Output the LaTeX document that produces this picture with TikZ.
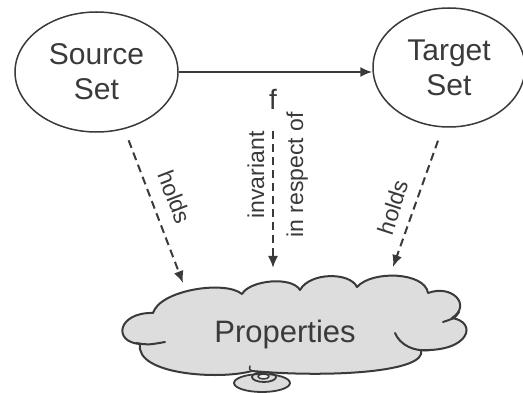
\documentclass[tikz,border=0pt]{standalone}
\usepackage{fontspec}
\setmainfont{Liberation Sans}
\usetikzlibrary{arrows.meta,shapes.geometric,calc}

\definecolor{ink}{HTML}{3A3A3A}
\definecolor{cloudgray}{HTML}{DDDDDD}

\tikzset{
  setnode/.style={ellipse, draw=ink, line width=1.5pt, fill=white, inner sep=0pt,
    align=center, text=ink, font=\fontsize{30}{35}\selectfont},
  lbl/.style={text=ink, inner sep=0pt, font=\fontsize{23}{27}\selectfont},
  mainarrow/.style={draw=ink, line width=2pt, -{Latex[length=12pt,width=10pt]}},
  dasharrow/.style={draw=ink, line width=2pt, dash pattern=on 8pt off 5pt,
    -{Latex[length=12pt,width=10pt]}},
  cloudline/.style={draw=ink, line width=2pt, line join=round, line cap=round},
}

\begin{document}
\begin{tikzpicture}[x=1pt, y=-1pt]
  \useasboundingbox (0,0) rectangle (523,393);
  \fill[white] (0,0) rectangle (523,393);

  % the two sets
  \node[setnode, minimum width=163pt, minimum height=120pt] (src) at (96.5,72) {Source\\Set};
  \node[setnode, minimum width=152pt, minimum height=119pt] (tgt) at (449,67.5) {Target\\Set};

  % the mapping f
  \draw[mainarrow] (src.east) -- (src.east -| tgt.west);
  \node[lbl, font=\fontsize{28}{32}\selectfont, anchor=base] (f) at (273,110) {f};

  % thought-bubble tail under the cloud
  \draw[cloudline, line width=1.8pt, fill=cloudgray] (262,383) ellipse [x radius=28, y radius=9];

  % the cloud of properties
  \path[cloudline, fill=cloudgray]
    (153,313)
    .. controls (160,290) and (225,280) .. (242,294)
    .. controls (250,280) and (292,276) .. (300,290)
    .. controls (310,272) and (350,272) .. (357,287)
    .. controls (372,270) and (425,272) .. (428,293)
    .. controls (452,284) and (472,305) .. (452,318)
    .. controls (478,322) and (470,352) .. (421,350)
    .. controls (428,372) and (330,378) .. (252,371)
    .. controls (220,380) and (135,375) .. (140,344)
    .. controls (112,342) and (118,312) .. (153,313)
    -- cycle;
  % folds inside the cloud
  \draw[cloudline] (136,343) .. controls (148,345) .. (165,342);
  \draw[cloudline] (459,312) .. controls (455,318) .. (443,322);
  \draw[cloudline] (430,350) .. controls (414,352) and (400,345) .. (395,333);
  \draw[cloudline, line width=1.5pt] (252,371) .. controls (249,369) .. (250,366);

  % rings of the tail, on top of the cloud edge
  \draw[cloudline, line width=1.8pt] (264,377) ellipse [x radius=12, y radius=5];
  \draw[cloudline, line width=1.5pt, fill=white!60!cloudgray] (263.5,376.5) ellipse [x radius=5.5, y radius=2.5];

  \node[text=ink, inner sep=0pt, font=\fontsize{31}{35}\selectfont, anchor=base] (props) at (285,342) {Properties};

  % arrow ends on the cloud
  \coordinate (cloudL) at (183,283);
  \coordinate (cloudM) at (273,268);
  \coordinate (cloudR) at (393,267);

  % dashed relations
  \draw[dasharrow, shorten <=12pt] (src.-64.3) -- (cloudL);
  \draw[dasharrow, shorten <=14pt] (tgt.-96) -- (cloudR);
  \draw[dasharrow, shorten <=21pt] (f.south) -- (cloudM);

  % labels of the dashed relations
  \node[lbl, rotate=-69, anchor=base] (holdsL) at (167,200) {holds};
  \node[lbl, rotate=72, anchor=base] (holdsR) at (401,210) {holds};
  \node[lbl, rotate=90, anchor=base] (inv) at (264,175) {invariant};
  \node[lbl, rotate=90, anchor=base] (resp) at (303,175) {in respect of};
\end{tikzpicture}
\end{document}
